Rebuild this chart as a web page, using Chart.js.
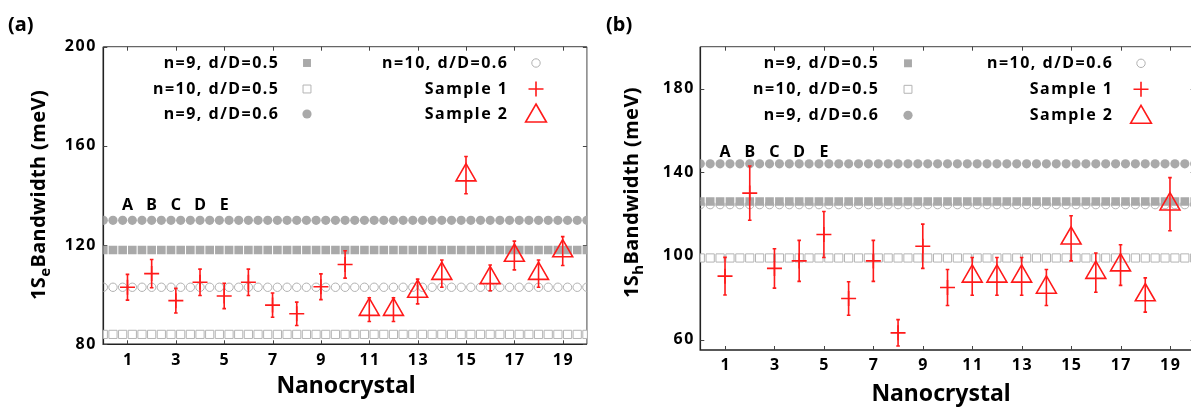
<!DOCTYPE html>
<html>
<head>
<meta charset="utf-8">
<script src="https://cdn.jsdelivr.net/npm/chart.js@4.4.1/dist/chart.umd.min.js"></script>
<style>
  html, body { margin: 0; padding: 0; background: #fff; overflow: hidden; }
  #wrap { position: relative; width: 1191px; height: 409px; overflow: hidden; }
  .panel { position: absolute; top: 0; }
  #pa { left: 0; }
  #pb { left: 600px; }
</style>
</head>
<body>
<div id="wrap">
  <div class="panel" id="pa"><canvas id="ca" width="600" height="409"></canvas></div>
  <div class="panel" id="pb"><canvas id="cb" width="610" height="409"></canvas></div>
</div>
<script>
// ---- data ----
const xTicks = [1, 3, 5, 7, 9, 11, 13, 15, 17, 19];
const yTicksA = [80, 120, 160, 200];
const yTicksB = [60, 100, 140, 180];

// marker positions of the model rows (one marker every 0.4)
const gridX = [0, 0.4, 0.8, 1.2, 1.6, 2, 2.4, 2.8, 3.2, 3.6, 4, 4.4, 4.8, 5.2, 5.6, 6, 6.4, 6.8, 7.2, 7.6,
  8, 8.4, 8.8, 9.2, 9.6, 10, 10.4, 10.8, 11.2, 11.6, 12, 12.4, 12.8, 13.2, 13.6, 14, 14.4, 14.8, 15.2, 15.6,
  16, 16.4, 16.8, 17.2, 17.6, 18, 18.4, 18.8, 19.2, 19.6, 20];

const seriesNames = ['n=9, d/D=0.5', 'n=10, d/D=0.5', 'n=9, d/D=0.6', 'n=10, d/D=0.6', 'Sample 1', 'Sample 2'];

// model levels, same order as the first four names
const levelsA = [118, 84, 130, 103];
const levelsB = [126, 99, 144, 124.5];

const sample1X = [1, 2, 3, 4, 5, 6, 7, 8, 9, 10];
const sample2X = [11, 12, 13, 14, 15, 16, 17, 18, 19];

// (a) 1Se bandwidth
const sample1A = [103, 108.5, 97.6, 105, 99.5, 105, 95.8, 92.3, 103.2, 112.2];
const err1A = [5.2, 5.7, 5, 5.3, 5.1, 5.3, 4.9, 4.7, 5.2, 5.5];
const sample2A = [94, 94, 101.3, 108.5, 148.2, 106.8, 115.8, 108.5, 117.6];
const err2A = [4.8, 4.8, 5, 5.5, 7.5, 5.2, 5.8, 5.5, 5.8];

// (b) 1Sh bandwidth
const sample1B = [90.3, 130, 94, 97.6, 110.2, 79.6, 97.6, 63.2, 104.6, 84.9];
const err1B = [9, 13, 9.4, 9.8, 11, 8, 9.8, 6.3, 10.6, 8.6];
const sample2B = [90.2, 90.2, 90.2, 84.9, 108.4, 92, 95.6, 81.3, 124.7];
const err2B = [9, 9, 9, 8.6, 10.8, 9.4, 9.7, 8.2, 12.7];

const letters = ['A', 'B', 'C', 'D', 'E'];
const letterX = [1, 2, 3, 4, 5];
const letterYA = 136;
const letterYB = 149.5;

// ---- styles ----
const FONT = '"Noto Sans", "Open Sans", sans-serif';
const GREY = '#a9a9a9';
const RED = '#ff1a1a';
const LS = 1.5; // extra letter spacing of the small bold labels

const styles = [
  { pointStyle: 'rect', radius: 6.1, backgroundColor: GREY, borderColor: GREY, borderWidth: 0, order: 2 },
  { pointStyle: 'rect', radius: 5.8, backgroundColor: '#fff', borderColor: '#b4b4b4', borderWidth: 1, order: 5 },
  { pointStyle: 'circle', radius: 4.6, backgroundColor: GREY, borderColor: GREY, borderWidth: 0, order: 3 },
  { pointStyle: 'circle', radius: 4.2, backgroundColor: 'rgba(255,255,255,0)', borderColor: '#b0b0b0', borderWidth: 1, order: 4 },
  { pointStyle: 'cross', radius: 7.5, backgroundColor: RED, borderColor: RED, borderWidth: 1.6, order: 1 },
  { pointStyle: 'triangle', radius: 11.5, backgroundColor: 'rgba(255,255,255,0)', borderColor: RED, borderWidth: 1.6, order: 0 }
];

function buildDatasets(levels, s1, s2) {
  const ds = levels.map((lv, i) => ({
    label: seriesNames[i],
    data: gridX.map(x => ({ x: x, y: lv })),
    ...styles[i]
  }));
  ds.push({ label: seriesNames[4], data: sample1X.map((x, i) => ({ x: x, y: s1[i] })), ...styles[4] });
  ds.push({ label: seriesNames[5], data: sample2X.map((x, i) => ({ x: x, y: s2[i] })), ...styles[5] });
  ds.forEach(d => {
    d.pointRadius = d.radius;
    d.pointHoverRadius = d.radius;
    d.pointBorderWidth = d.borderWidth;
    d.showLine = false;
  });
  return ds;
}

// text with letter spacing; align is 'left' | 'right' | 'center'
function spacedText(ctx, t, x, y, align) {
  ctx.letterSpacing = LS + 'px';
  ctx.textAlign = align;
  const dx = align === 'right' ? LS : (align === 'center' ? LS / 2 : 0);
  ctx.fillText(t, x + dx, y);
  ctx.letterSpacing = '0px';
}

function drawYTitle(ctx, x, y, main, sub, rest) {
  ctx.save();
  ctx.translate(x, y);
  ctx.rotate(-Math.PI / 2);
  ctx.letterSpacing = '0.4px';
  const f1 = 'bold 20px ' + FONT, f2 = 'bold 15px ' + FONT;
  ctx.font = f1;
  const w1 = ctx.measureText(main).width;
  const w3 = ctx.measureText(rest).width;
  ctx.font = f2;
  const w2 = ctx.measureText(sub).width;
  let cx = -(w1 + w2 + w3) / 2;
  ctx.fillStyle = '#000';
  ctx.textAlign = 'left';
  ctx.textBaseline = 'alphabetic';
  ctx.font = f1; ctx.fillText(main, cx, 0); cx += w1;
  ctx.font = f2; ctx.fillText(sub, cx, 5); cx += w2;
  ctx.font = f1; ctx.fillText(rest, cx, 0);
  ctx.restore();
}

// frame, inner ticks, tick labels, error bars, letters, legend and titles
function makeDecor(cfg) {
  return {
    id: 'decor',
    beforeDatasetsDraw(chart) {
      const { ctx, chartArea: a, scales } = chart;
      ctx.save();
      ctx.strokeStyle = '#666';
      ctx.lineWidth = 1.2;
      ctx.beginPath();
      ctx.moveTo(a.left, a.top); ctx.lineTo(a.right, a.top);
      ctx.moveTo(a.right, a.top); ctx.lineTo(a.right, a.bottom);
      ctx.stroke();
      ctx.strokeStyle = '#222';
      ctx.lineWidth = 1.6;
      ctx.beginPath();
      ctx.moveTo(a.left, a.top); ctx.lineTo(a.left, a.bottom); ctx.lineTo(a.right, a.bottom);
      ctx.stroke();
      ctx.lineWidth = 1;
      ctx.strokeStyle = '#444';
      ctx.beginPath();
      xTicks.forEach(v => {
        const px = Math.round(scales.x.getPixelForValue(v)) + 0.5;
        ctx.moveTo(px, a.top); ctx.lineTo(px, a.top + 4);
        ctx.moveTo(px, a.bottom); ctx.lineTo(px, a.bottom - 4);
      });
      cfg.yTicks.forEach(v => {
        const py = Math.round(scales.y.getPixelForValue(v)) + 0.5;
        ctx.moveTo(a.left, py); ctx.lineTo(a.left + 4, py);
        ctx.moveTo(a.right, py); ctx.lineTo(a.right - 4, py);
      });
      ctx.stroke();
      ctx.restore();
    },
    afterDatasetsDraw(chart) {
      const { ctx, scales } = chart;
      ctx.save();
      ctx.strokeStyle = RED;
      ctx.lineWidth = 1.6;
      const bars = (xs, ys, es) => xs.forEach((x, i) => {
        const px = scales.x.getPixelForValue(x);
        const p1 = scales.y.getPixelForValue(ys[i] + es[i]);
        const p2 = scales.y.getPixelForValue(ys[i] - es[i]);
        ctx.beginPath();
        ctx.moveTo(px, p1); ctx.lineTo(px, p2);
        ctx.moveTo(px - 1.8, p1); ctx.lineTo(px + 1.8, p1);
        ctx.moveTo(px - 1.8, p2); ctx.lineTo(px + 1.8, p2);
        ctx.stroke();
      });
      bars(sample1X, cfg.s1, cfg.e1);
      bars(sample2X, cfg.s2, cfg.e2);
      ctx.restore();
    },
    afterDraw(chart) {
      const { ctx, chartArea: a, scales } = chart;
      ctx.save();
      ctx.fillStyle = '#000';
      ctx.font = 'bold 16px ' + FONT;
      ctx.textBaseline = 'middle';
      // tick labels
      xTicks.forEach(v => spacedText(ctx, String(v), scales.x.getPixelForValue(v), a.bottom + cfg.xLab, 'center'));
      cfg.yTicks.forEach(v => spacedText(ctx, String(v), a.left - cfg.yLab, scales.y.getPixelForValue(v), 'right'));
      // A..E
      letters.forEach((t, i) => {
        spacedText(ctx, t, scales.x.getPixelForValue(letterX[i]), scales.y.getPixelForValue(cfg.letterY), 'center');
      });
      // legend (two columns, text right aligned then marker)
      chart.data.datasets.forEach((d, i) => {
        const col = i < 3 ? 0 : 1;
        const row = i % 3;
        const ty = cfg.legRows[row];
        ctx.fillStyle = '#000';
        ctx.font = 'bold 16px ' + FONT;
        ctx.textBaseline = 'middle';
        spacedText(ctx, d.label, cfg.legText[col], ty, 'right');
        ctx.fillStyle = d.backgroundColor;
        ctx.strokeStyle = d.borderColor;
        ctx.lineWidth = d.borderWidth;
        const r = d.pointStyle === 'triangle' ? 12 : (d.pointStyle === 'rect' ? 5.6 : d.radius);
        Chart.helpers.drawPoint(ctx, { pointStyle: d.pointStyle, radius: r, rotation: 0, borderWidth: d.borderWidth },
          cfg.legMark[col], ty + (d.pointStyle === 'triangle' ? 2 : 0));
      });
      // axis titles
      ctx.fillStyle = '#000';
      ctx.font = 'bold 23px ' + FONT;
      ctx.textAlign = 'center';
      ctx.textBaseline = 'alphabetic';
      ctx.fillText('Nanocrystal', cfg.xTitleX, cfg.xTitleY);
      drawYTitle(ctx, cfg.yTitleX, cfg.yTitleY, '1S', cfg.sub, 'Bandwidth (meV)');
      // panel letter
      ctx.font = 'bold 20px ' + FONT;
      ctx.textAlign = 'left';
      ctx.fillText(cfg.panel, cfg.panelX, 31);
      ctx.restore();
    }
  };
}

function makeChart(id, levels, s1, s2, yMin, yMax, yTicks, geo, cfg) {
  return new Chart(document.getElementById(id), {
    type: 'scatter',
    data: { datasets: buildDatasets(levels, s1, s2) },
    options: {
      responsive: false,
      animation: false,
      devicePixelRatio: 1,
      events: [],
      layout: { padding: { left: 0, right: geo.padRight, top: geo.padTop, bottom: 0 } },
      plugins: { legend: { display: false }, tooltip: { enabled: false } },
      scales: {
        x: {
          type: 'linear', min: 0, max: 20,
          afterBuildTicks: ax => { ax.ticks = xTicks.map(v => ({ value: v })); },
          afterFit: s => { s.height = geo.xHeight; },
          grid: { display: false, drawTicks: false },
          border: { display: false },
          ticks: { display: false }
        },
        y: {
          type: 'linear', min: yMin, max: yMax,
          afterBuildTicks: ax => { ax.ticks = yTicks.map(v => ({ value: v })); },
          afterFit: s => { s.width = geo.yWidth; },
          grid: { display: false, drawTicks: false },
          border: { display: false },
          ticks: { display: false }
        }
      }
    },
    plugins: [makeDecor(Object.assign({ yTicks: yTicks, s1: s1, s2: s2 }, cfg))]
  });
}

makeChart('ca', levelsA, sample1A, sample2A, 80, 200, yTicksA,
  { padRight: 11.3, padTop: 46.7, xHeight: 64.7, yWidth: 103.3 },
  { e1: err1A, e2: err2A, letterY: letterYA, legRows: [63, 89, 114], legText: [278, 507], legMark: [307, 536],
    xLab: 16, yLab: 8, xTitleX: 346, xTitleY: 393, yTitleX: 45, yTitleY: 195, sub: 'e', panel: '(a)', panelX: 8 });

makeChart('cb', levelsB, sample1B, sample2B, 55, 200, yTicksB,
  { padRight: 15.3, padTop: 46.7, xHeight: 59, yWidth: 100.3 },
  { e1: err1B, e2: err2B, letterY: letterYB, legRows: [63.3, 89.3, 115.3], legText: [278, 512], legMark: [308, 541],
    xLab: 15, yLab: 7, xTitleX: 341, xTitleY: 400.5, yTitleX: 38, yTitleY: 192.5, sub: 'h', panel: '(b)', panelX: 6 });
</script>
</body>
</html>
